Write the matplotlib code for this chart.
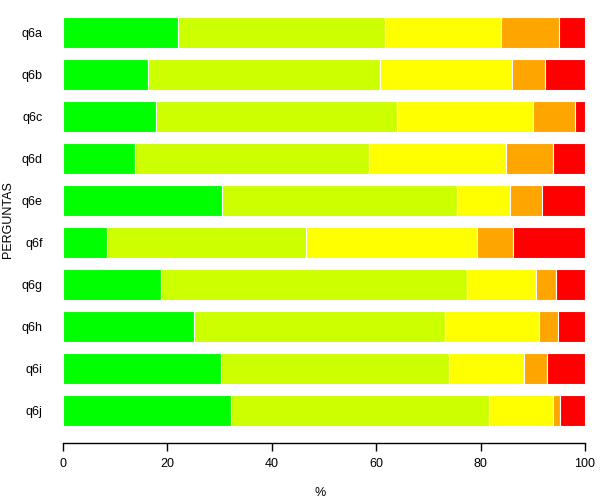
import numpy as np
import matplotlib
matplotlib.use("Agg")
import matplotlib.pyplot as plt

plt.rcParams["font.family"] = ["Liberation Sans", "DejaVu Sans"]

questions = ["q6a", "q6b", "q6c", "q6d", "q6e", "q6f", "q6g", "q6h", "q6i", "q6j"]
seg1 = [22.1, 16.3, 17.8, 13.8, 30.5, 8.4, 18.8, 25.0, 30.3, 32.2]
seg2 = [39.6, 44.5, 46.2, 44.8, 45.0, 38.2, 58.6, 48.2, 43.6, 49.4]
seg3 = [22.3, 25.3, 26.1, 26.2, 10.2, 32.8, 13.3, 17.9, 14.5, 12.3]
seg4 = [11.0, 6.3, 8.0, 9.1, 6.1, 6.8, 3.8, 3.8, 4.3, 1.4]
seg5 = [5.0, 7.6, 1.9, 6.1, 8.2, 13.8, 5.5, 5.1, 7.3, 4.7]
colors = ["#00FF00", "#CCFF00", "#FFFF00", "#FFA500", "#FF0000"]

fig = plt.figure(figsize=(6.0, 5.01), dpi=100)
ax = fig.add_axes([63 / 600, 58 / 501, 522 / 600, 431 / 501])

y = np.arange(len(questions))
left = np.zeros(len(questions))
for vals, col in zip([seg1, seg2, seg3, seg4, seg5], colors):
    ax.barh(y, vals, left=left, height=0.74, color=col, edgecolor="white", linewidth=0.8)
    left += np.array(vals)

ax.set_xlim(0, 100)
ax.set_ylim(9 + 0.774, -0.488)
ax.set_yticks(y)
ax.set_yticklabels(questions, fontsize=9)
ax.tick_params(axis="y", length=0, pad=14.5)
ax.set_xticks([0, 20, 40, 60, 80, 100])
ax.tick_params(axis="x", length=6, width=1, labelsize=9, pad=5)
for s in ["top", "right", "left"]:
    ax.spines[s].set_visible(False)
ax.spines["bottom"].set_linewidth(1)

fig.text(320 / 600, 1 - 493 / 501, "%", ha="center", va="center", fontsize=9)
fig.text(8 / 600, 1 - 220 / 501, "PERGUNTAS", ha="center", va="center", rotation=90, fontsize=9)

fig.savefig("out.png", dpi=100)
plt.close(fig)
